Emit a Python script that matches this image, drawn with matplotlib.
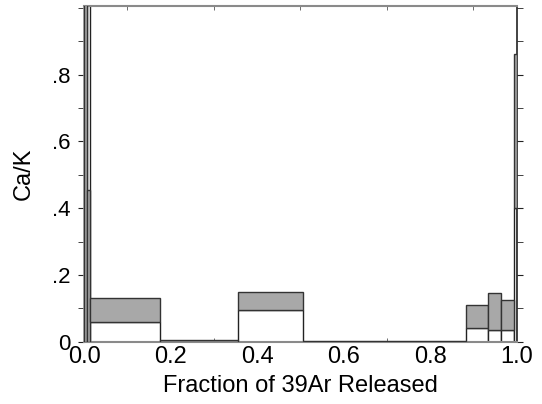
"""
Ca/K release spectrum (step heating)
"""

import matplotlib
matplotlib.use('Agg')
import matplotlib.pyplot as plt
from matplotlib.ticker import MultipleLocator

# Step boundaries (cumulative fraction of 39Ar released)
step_start = [0.000, 0.008, 0.014, 0.176, 0.357, 0.506, 0.883, 0.935, 0.963, 0.994]
step_end = [0.008, 0.014, 0.176, 0.357, 0.506, 0.883, 0.935, 0.963, 0.994, 1.000]
# Ca/K error band (lower / upper)
ca_lo = [0.000, 0.000, 0.060, 0.000, 0.095, 0.000, 0.041, 0.034, 0.034, 0.400]
ca_hi = [1.200, 0.455, 0.130, 0.006, 0.150, 0.003, 0.111, 0.146, 0.126, 0.860]
# white (open) column under each band
white_top = [0.000, 1.200, 0.060, 0.000, 0.095, 0.000, 0.041, 0.034, 0.034, 0.400]

ytick_vals = [0, 0.2, 0.4, 0.6, 0.8]
ytick_labels = ['0', '.2', '.4', '.6', '.8']
xtick_vals = [0.0, 0.2, 0.4, 0.6, 0.8, 1.0]
xtick_labels = ['0.0', '0.2', '0.4', '0.6', '0.8', '1.0']

plt.rcParams['font.family'] = ['Liberation Sans', 'DejaVu Sans']

fig = plt.figure(figsize=(5.42, 4.04), dpi=100)
ax = fig.add_axes([0.155, 0.154, 0.798, 0.831])

for x0, x1, lo, hi, wt in zip(step_start, step_end, ca_lo, ca_hi, white_top):
    w = x1 - x0
    if wt > 0:
        ax.bar(x0, wt, width=w, bottom=0, align='edge', color='white',
               edgecolor='#222222', linewidth=1.0, zorder=2)
    ax.bar(x0, hi - lo, width=w, bottom=lo, align='edge', color='#a8a8a8',
           edgecolor='#333333', linewidth=1.0, zorder=3)

ax.set_xlim(0, 1.0)
ax.set_ylim(0, 1.005)

ax.set_xticks(xtick_vals)
ax.set_xticklabels(xtick_labels)
ax.set_yticks(ytick_vals)
ax.set_yticklabels(ytick_labels)
ax.xaxis.set_minor_locator(MultipleLocator(0.1))
ax.yaxis.set_minor_locator(MultipleLocator(0.1))

ax.tick_params(axis='x', which='both', direction='in', length=3, top=True,
               color='#555555', labelsize=17, pad=3)
ax.tick_params(axis='x', which='major', length=0)
ax.tick_params(axis='y', which='both', direction='out', length=4, right=True,
               color='#222222', labelsize=16, pad=6)

for side in ['top', 'bottom']:
    ax.spines[side].set_color('#8a8a8a')
    ax.spines[side].set_linewidth(1.5)
for side in ['left', 'right']:
    ax.spines[side].set_color('#222222')
    ax.spines[side].set_linewidth(1.2)
ax.spines['left'].set_color('#8a8a8a')

ax.set_xlabel('Fraction of 39Ar Released', fontsize=17, labelpad=5)
ax.set_ylabel('Ca/K', fontsize=17, labelpad=12)

plt.savefig('out.png', dpi=100)
plt.close()
